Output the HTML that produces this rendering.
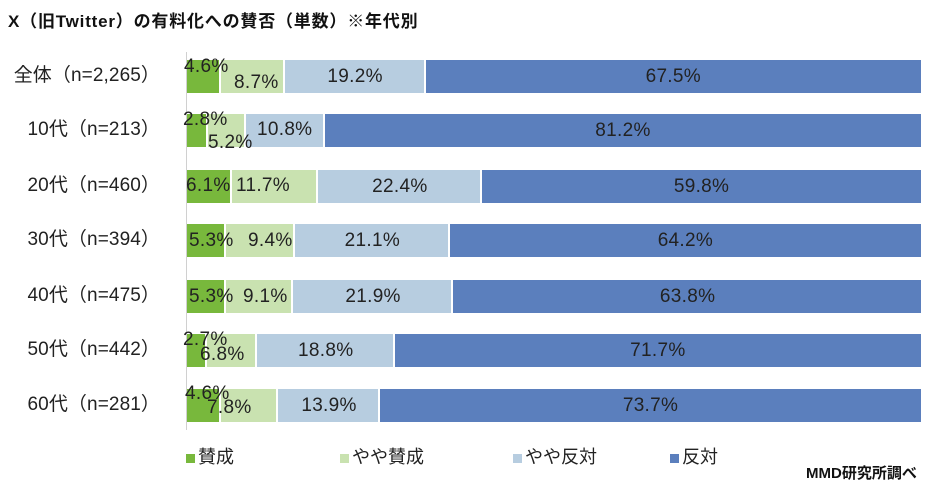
<!DOCTYPE html>
<html><head><meta charset="utf-8"><style>
body{margin:0;width:941px;height:496px;background:#fff;position:relative;overflow:hidden;font-family:"Liberation Sans","Noto Sans CJK JP",sans-serif;}
.t{position:absolute;white-space:nowrap;}
.seg{position:absolute;height:33px;}
.lb{position:absolute;font-size:19px;color:#222;white-space:nowrap;line-height:20px;letter-spacing:0.3px;z-index:5;}
.cat{position:absolute;font-size:19px;color:#222;right:781px;white-space:nowrap;line-height:20px;letter-spacing:0.1px;}
</style></head><body>
<div class="t" style="left:8px;top:7px;font-size:17px;font-weight:bold;color:#111;letter-spacing:0.8px">X（旧Twitter）の有料化への賛否（単数）※年代別</div>
<div style="position:absolute;left:186px;top:52px;width:1px;height:378px;background:#d0d0d0"></div>
<div id="c"></div>
<div class="t" style="left:186px;top:443px;font-size:18px;color:#222"><span style="display:inline-block;width:9px;height:9px;background:#78b83c;margin-right:3px"></span>賛成</div>
<div class="t" style="left:340px;top:443px;font-size:18px;color:#222"><span style="display:inline-block;width:9px;height:9px;background:#c9e2b0;margin-right:3px"></span>やや賛成</div>
<div class="t" style="left:513px;top:443px;font-size:18px;color:#222"><span style="display:inline-block;width:9px;height:9px;background:#b7cde0;margin-right:3px"></span>やや反対</div>
<div class="t" style="left:670px;top:443px;font-size:18px;color:#222"><span style="display:inline-block;width:9px;height:9px;background:#5b7fbd;margin-right:3px"></span>反対</div>
<div class="t" style="left:806px;top:462px;font-size:15px;font-weight:bold;color:#111">MMD研究所調べ</div>
<script>
var rows=[
["全体（n=2,265）",60,[4.6,8.7,19.2,67.5],[[184,57],[234,73],null,null]],
["10代（n=213）",114,[2.8,5.2,10.8,81.2],[[183,110],[208,133],[257,120],null]],
["20代（n=460）",170,[6.1,11.7,22.4,59.8],[[186,176],[236,176],null,null]],
["30代（n=394）",224,[5.3,9.4,21.1,64.2],[[189,231],[248,231],null,null]],
["40代（n=475）",280,[5.3,9.1,21.9,63.8],[[189,287],[243,287],null,null]],
["50代（n=442）",334,[2.7,6.8,18.8,71.7],[[183,330],[200,345],null,null]],
["60代（n=281）",389,[4.6,7.8,13.9,73.7],[[185,384],[207,398],null,null]]];
var cols=["#78b83c","#c9e2b0","#b7cde0","#5b7fbd"];
var h="",L="",X0=187,W=734;
rows.forEach(function(r){
 var y=r[1];
 h+='<div class="cat" style="top:'+(y+6)+'px">'+r[0]+'</div>';
 var x=X0;
 r[2].forEach(function(v,i){
  var w=v/100*W; var last=i==3;
  h+='<div class="seg" style="left:'+x+'px;top:'+y+'px;width:'+(last?(X0+W-x):(w-2))+'px;background:'+cols[i]+'"></div>';
  var p=r[3][i];
  if(p){L+='<div class="lb" style="left:'+p[0]+'px;top:'+p[1]+'px">'+v.toFixed(1)+'%</div>';}
  else{L+='<div class="lb" style="left:'+(x+w/2-40)+'px;width:80px;text-align:center;top:'+(y+7)+'px">'+v.toFixed(1)+'%</div>';}
  x+=w;
 });
});
document.getElementById('c').innerHTML=h+L;
</script>
</body></html>
